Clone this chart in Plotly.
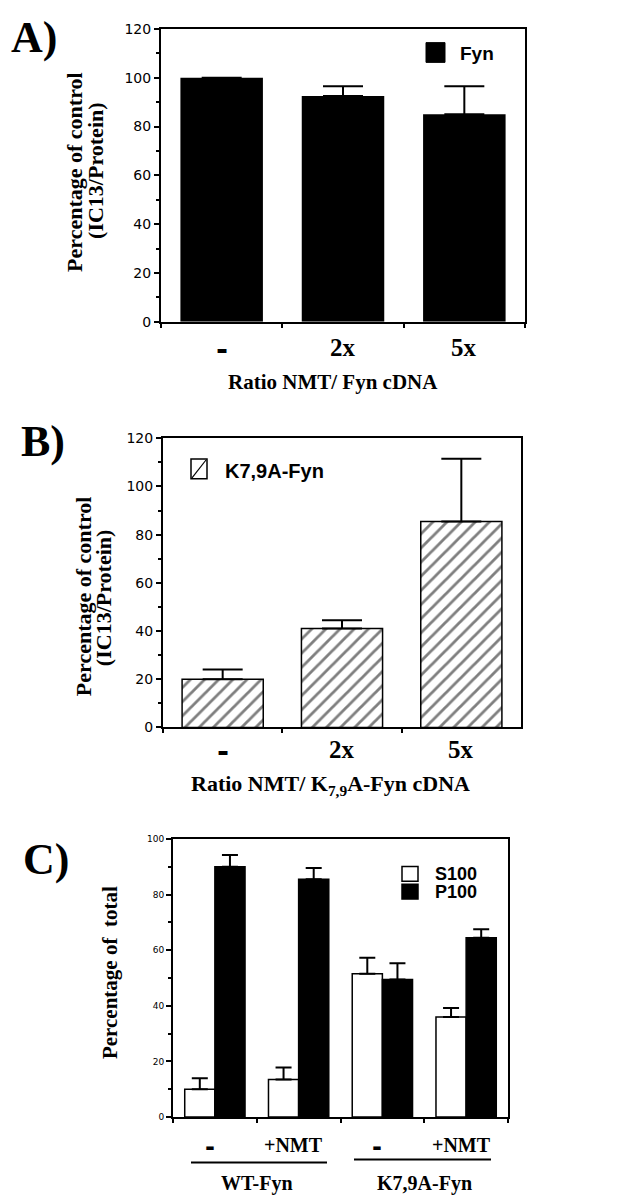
import plotly.graph_objects as go

# data
a_labels = ["-", "2x", "5x"]
a_values = [100, 92.5, 85]
a_err = [None, 4, 11.5]

b_labels = ["-", "2x", "5x"]
b_values = [20, 41, 85.5]
b_err = [4, 3.5, 26]

c_keys = ["WT -", "WT +NMT", "K -", "K +NMT"]
c_labels = ["-", "+NMT", "-", "+NMT"]
c_groups = ["WT-Fyn", "K7,9A-Fyn"]
s100 = [10, 13.5, 51.5, 36]
s100_err = [4, 4.3, 5.8, 3.2]
p100 = [90, 85.5, 49.5, 64.5]
p100_err = [4.2, 4, 5.8, 3]

W, H = 618, 1200
SERIF = "Liberation Serif"
SANS = "Liberation Sans"


def px(x):
   return x / W


def py(y):
   return 1 - y / H


fig = go.Figure()

# A) Fyn
fig.add_trace(go.Bar(x=a_labels, y=a_values, width=0.68, marker=dict(color="black", line=dict(width=0)),
                     error_y=dict(type="data", array=a_err, arrayminus=[0, 0, 0], symmetric=False,
                                  color="black", thickness=2, width=20),
                     xaxis="x", yaxis="y", showlegend=False))

# B) K7,9A-Fyn (hatched)
fig.add_trace(go.Bar(x=b_labels, y=b_values, width=0.68,
                     marker=dict(color="white", line=dict(color="black", width=1.5),
                                 pattern=dict(shape="/", fgcolor="black", bgcolor="white", size=10, solidity=0.28)),
                     error_y=dict(type="data", array=b_err, arrayminus=[0, 0, 0], symmetric=False,
                                  color="black", thickness=2, width=20),
                     xaxis="x2", yaxis="y2", showlegend=False))

# C) S100 / P100
fig.add_trace(go.Bar(x=c_keys, y=s100, width=0.36, offset=-0.36,
                     marker=dict(color="white", line=dict(color="black", width=1.5)),
                     error_y=dict(type="data", array=s100_err, arrayminus=[0] * 4, symmetric=False,
                                  color="black", thickness=2, width=8),
                     xaxis="x3", yaxis="y3", showlegend=False))
fig.add_trace(go.Bar(x=c_keys, y=p100, width=0.36, offset=0,
                     marker=dict(color="black", line=dict(color="black", width=1.5)),
                     error_y=dict(type="data", array=p100_err, arrayminus=[0] * 4, symmetric=False,
                                  color="black", thickness=2, width=8),
                     xaxis="x3", yaxis="y3", showlegend=False))

xax = dict(type="category", showline=True, linewidth=2, linecolor="black", mirror=True,
           ticks="outside", tickson="boundaries", ticklen=4, tickwidth=1.5, tickcolor="black",
           showticklabels=False, showgrid=False, zeroline=False, fixedrange=True)


def yax(rng, size, anchor, dom):
   return dict(range=rng, dtick=20, showline=True, linewidth=2, linecolor="black", mirror=True,
               ticks="outside", ticklen=5, tickwidth=1.5, tickcolor="black",
               minor=dict(dtick=10, ticks="outside", ticklen=3, tickwidth=1.5, tickcolor="black"),
               tickfont=dict(family="DejaVu Sans", size=size, color="black"),
               showgrid=False, zeroline=False, anchor=anchor, domain=dom)


fig.update_layout(
   width=W, height=H,
   margin=dict(l=0, r=0, t=0, b=0),
   paper_bgcolor="white", plot_bgcolor="white",
   barmode="overlay",
   xaxis=dict(xax, domain=[px(153), px(517)], anchor="y"),
   yaxis=yax([0, 120], 14, "x", [py(310), py(13)]),
   xaxis2=dict(xax, domain=[px(155), px(513)], anchor="y2"),
   yaxis2=yax([0, 120], 14, "x2", [py(721), py(428)]),
   xaxis3=dict(xax, domain=[px(165), px(500)], anchor="y3"),
   yaxis3=yax([0, 100], 9, "x3", [py(1116), py(834)]),
)

ann = []


def txt(text, x, y, size, family=SERIF, xref="paper", xanchor="center", angle=0, bold=True, xshift=0):
   ann.append(dict(text="<b>" + text + "</b>" if bold else text, x=x, y=y, xref=xref, yref="paper",
                   xanchor=xanchor, yanchor="middle", showarrow=False, textangle=angle, xshift=xshift,
                   font=dict(family=family, size=size, color="black")))


# panel letters
txt("A)", px(1), py(22), 44, xanchor="left")
txt("B)", px(11), py(431), 44, xanchor="left")
txt("C)", px(13), py(855), 44, xanchor="left")

# y titles
txt("Percentage of control", px(67), py(158), 22, angle=-90)
txt("(IC13/Protein)", px(88), py(157), 22, angle=-90)
txt("Percentage of control", px(75), py(588), 22, angle=-90)
txt("(IC13/Protein)", px(95), py(590), 22, angle=-90)
txt("Percentage of  total", px(102), py(970), 21, angle=-90)


def cat_label(lab, x, ypx, size, xref, xshift=0):
   # the "-" is drawn as a heavy short dash in the original
   if lab == "-":
      txt(lab, x, py(ypx + 2), size + 4, family="DejaVu Sans", xref=xref, xshift=xshift)
   else:
      txt(lab, x, py(ypx), size, xref=xref, xshift=xshift)


# category labels
for lab in a_labels:
   cat_label(lab, lab, 336, 25, "x")
for lab in b_labels:
   cat_label(lab, lab, 743, 25, "x2")
for key, lab in zip(c_keys, c_labels):
   cat_label(lab, key, 1144, 20, "x3", xshift=-5)
for i, g in enumerate(c_groups):
   txt(g, 2 * i + 0.5, py(1183), 20, xref="x3")

# x titles
txt("Ratio NMT/ Fyn cDNA", px(325), py(371), 21)
txt("Ratio NMT/ K<sub>7,9</sub>A-Fyn cDNA", px(323), py(779), 22)

# legends
txt("Fyn", px(450), py(38), 19, family=SANS, xanchor="left")
txt("K7,9A-Fyn", px(215), py(461), 20, family=SANS, xanchor="left")
txt("S100", px(425), py(870), 18, family=SANS, xanchor="left")
txt("P100", px(425), py(888), 18, family=SANS, xanchor="left")

fig.update_layout(annotations=ann)

shapes = [
   dict(type="rect", xref="paper", yref="paper", x0=px(418), x1=px(437), y0=py(47), y1=py(27),
        fillcolor="black", line=dict(color="black", width=1)),
   dict(type="rect", xref="paper", yref="paper", x0=px(183), x1=px(199), y0=py(469), y1=py(449),
        fillcolor="white", line=dict(color="black", width=1.5)),
   dict(type="line", xref="paper", yref="paper", x0=px(184), x1=px(198), y0=py(468), y1=py(450),
        line=dict(color="black", width=1.2)),
   dict(type="rect", xref="paper", yref="paper", x0=px(394), x1=px(410), y0=py(877), y1=py(862),
        fillcolor="white", line=dict(color="black", width=1.5)),
   dict(type="rect", xref="paper", yref="paper", x0=px(394), x1=px(410), y0=py(895), y1=py(880),
        fillcolor="black", line=dict(color="black", width=1.5)),
   # group underlines in C
   dict(type="line", xref="paper", yref="paper", x0=px(183), x1=px(319), y0=py(1162), y1=py(1162),
        line=dict(color="black", width=2)),
   dict(type="line", xref="paper", yref="paper", x0=px(346), x1=px(483), y0=py(1159), y1=py(1159),
        line=dict(color="black", width=2)),
]
fig.update_layout(shapes=shapes)

fig.write_html("out.html")
